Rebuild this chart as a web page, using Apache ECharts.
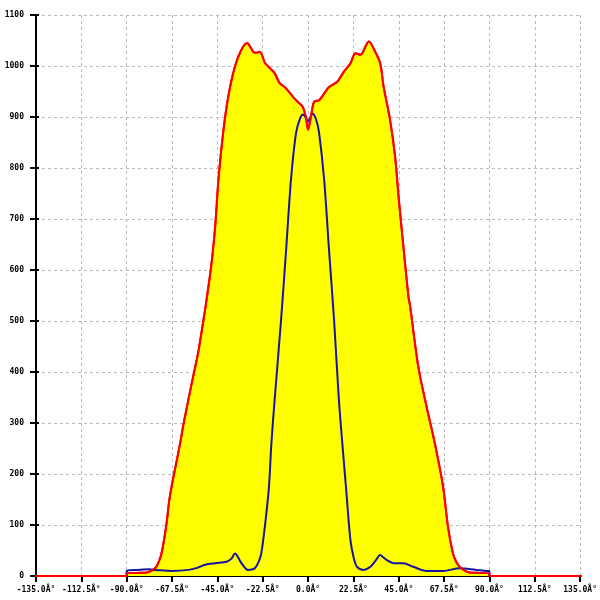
<!DOCTYPE html>
<html>
<head>
<meta charset="utf-8">
<script src="https://cdn.jsdelivr.net/npm/echarts@6/dist/echarts.min.js"></script>
<style>html,body{margin:0;padding:0;background:#fff}#c{width:600px;height:600px}</style>
</head>
<body>
<div id="c"></div>
<script>
// Angle ticks (degrees) and count ticks
var xTicks = [-135, -112.5, -90, -67.5, -45, -22.5, 0, 22.5, 45, 67.5, 90, 112.5, 135];
var yTicks = [0, 100, 200, 300, 400, 500, 600, 700, 800, 900, 1000, 1100];

// Red / yellow-filled series: [angle, value]
var redSeries = [
  [-200,0],[-90,0],[-90,5],[-85,6],[-80,7],[-77,12],[-75,20],[-73,40],[-71.5,70],[-70,110],
  [-69,145],[-67.5,180],[-65.8,214],[-63.5,260],[-61.7,300],[-58.4,365],[-56,410],[-54.3,443],
  [-51.9,502],[-50.4,541],[-47.9,613],[-46,690],[-44.5,776],[-42,874],[-39.6,940],[-36.3,999],
  [-33.2,1031],[-30.2,1045],[-28.3,1035],[-27,1027],[-25.8,1026],[-24,1028],[-21.4,1006],
  [-19.5,998],[-16.6,986],[-14.2,967],[-10.9,956],[-7.6,940],[-5.2,930],[-2.7,920],[-1.1,900],
  [0,875],[1.4,900],[3,930],[5.5,933],[8,946],[10.4,959],[14.5,969],[17.8,989],[21,1005],
  [23.5,1025],[26,1022],[30.1,1048],[33.3,1028],[35.8,1005],[37.5,959],[40.7,894],[43.2,822],
  [44.9,744],[47.3,646],[49.8,548],[50.6,530],[54.7,410],[58.8,332],[62.9,260],[67,175],
  [69.4,97],[71.9,44],[73.5,28],[75.2,18],[78,10],[80,7],[85,6],[90,5],[90,0],[200,0]
];

// Blue series: [angle, value]
var blueSeries = [
  [-90,0],[-90,10],[-85,12],[-79,13],[-75.6,12],[-67.5,10],[-59.3,12],[-55,16],[-51,22],[-46,25],
  [-40.4,28],[-38,34],[-36.3,44],[-33,25],[-29.8,12],[-26.5,15],[-24.5,28],[-23.2,45],[-21.5,95],
  [-19.5,170],[-18.2,260],[-16.6,345],[-13.4,502],[-10.9,639],[-8.5,776],[-6,868],[-4,897],
  [-2.5,905],[-1,898],[0,891],[1,898],[2.2,907],[4,895],[5.5,868],[8,776],[10.4,639],[12.9,502],
  [15.3,345],[17.2,250],[18.9,170],[21,71],[22.7,35],[24.3,18],[27.6,12],[30.9,18],[33.5,30],
  [35.8,41],[37.5,36],[39.1,31],[42.4,25],[47.3,25],[52.2,18],[58.8,10],[67,10],[75.2,15],
  [83.4,12],[89,10],[90,10],[90,0]
];

var labelFont = {fontFamily: 'DejaVu Sans Mono', fontSize: 8, fontWeight: 'bold', color: '#000'};
var dash = {type: [3, 3], color: '#bbbbbb', width: 1};

var chart = echarts.init(document.getElementById('c'), null, {renderer: 'canvas'});
chart.setOption({
  animation: false,
  backgroundColor: '#ffffff',
  grid: {left: 36, right: 15, top: 15, bottom: 24, containLabel: false},
  xAxis: [{
    type: 'value', min: xTicks[0], max: xTicks[xTicks.length - 1], interval: 22.5,
    axisLine: {show: true, onZero: false, lineStyle: {color: '#000', width: 2}},
    axisTick: {show: true, length: 6, lineStyle: {color: '#000', width: 2}},
    axisLabel: Object.assign({margin: 10, formatter: function (v) { return v.toFixed(1) + 'Â°'; }}, labelFont),
    splitLine: {show: true, lineStyle: dash}
  }],
  yAxis: [{
    type: 'value', min: yTicks[0], max: yTicks[yTicks.length - 1], interval: 100,
    axisLine: {show: true, onZero: false, lineStyle: {color: '#000', width: 2}},
    axisTick: {show: true, length: 6, lineStyle: {color: '#000', width: 2}},
    axisLabel: Object.assign({margin: 12, formatter: function (v) { return String(v); }}, labelFont),
    splitLine: {show: true, lineStyle: dash}
  }, {
    type: 'value', position: 'left', min: yTicks[0], max: yTicks[yTicks.length - 1], interval: 100,
    axisLine: {show: false, onZero: false},
    axisTick: {show: true, inside: true, length: 3, lineStyle: {color: '#000', width: 2}},
    axisLabel: {show: false},
    splitLine: {show: false}
  }],
  series: [{
    type: 'line', data: redSeries, showSymbol: false, symbol: 'none', clip: false,
    smooth: 0.3,
    lineStyle: {color: '#ff0000', width: 2},
    areaStyle: {color: '#ffff00', opacity: 1},
    z: 2
  }, {
    type: 'line', data: blueSeries, showSymbol: false, symbol: 'none',
    smooth: 0.3,
    lineStyle: {color: '#1414a0', width: 2},
    z: 3
  }, {
    type: 'line', data: redSeries, showSymbol: false, symbol: 'none', clip: false,
    smooth: 0.3,
    lineStyle: {color: '#ff0000', width: 2},
    z: 4
  }]
});
</script>
</body>
</html>
